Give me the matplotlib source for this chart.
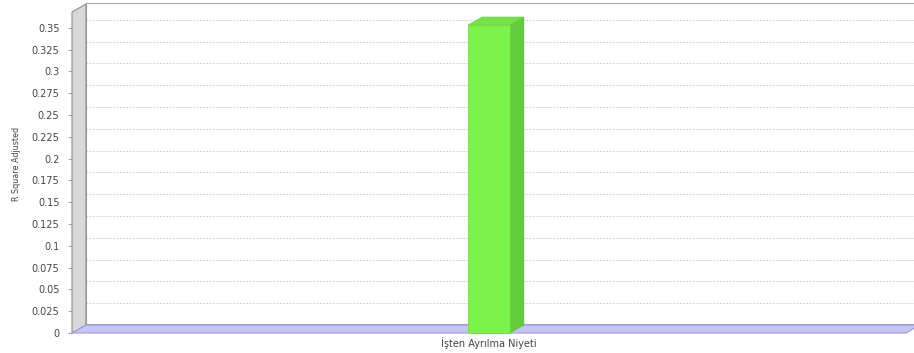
import matplotlib.pyplot as plt
import matplotlib.transforms as mtransforms
from matplotlib.patches import Polygon
import numpy as np

categories = ['İşten Ayrılma Niyeti']
values = [0.353]
yticks = [0, 0.025, 0.05, 0.075, 0.1, 0.125, 0.15, 0.175, 0.2, 0.225, 0.25, 0.275, 0.3, 0.325, 0.35]
ytick_labels = ['0', '0.025', '0.05', '0.075', '0.1', '0.125', '0.15', '0.175', '0.2', '0.225',
                '0.25', '0.275', '0.3', '0.325', '0.35']

W, H = 914, 353
DX, DY = 14, 8  # 3d depth offset in pixels

fig = plt.figure(figsize=(W / 100, H / 100), dpi=100)
ax = fig.add_axes([72 / W, (H - 333) / H, (906 - 72) / W, (333 - 12) / H])
ax.set_xlim(-0.5, len(categories) - 0.5)
ax.set_ylim(0, 0.368)
ax.set_facecolor('none')
for s in ax.spines.values():
    s.set_visible(False)

ident = mtransforms.IdentityTransform()
off = mtransforms.ScaledTranslation(DX / 100, DY / 100, fig.dpi_scale_trans)


def disp(tr, pts):
    return tr.transform(np.array(pts, dtype=float))


def poly(pts, z, **kw):
    p = Polygon(pts, closed=True, transform=ident, clip_on=False, zorder=z, **kw)
    ax.add_patch(p)


# back wall
fl = disp(ax.transAxes, [(0, 0), (1, 0), (1, 1), (0, 1)])
poly(fl + [DX, DY + 1], 0, facecolor='white', edgecolor='#a8a8a8', linewidth=0.8)

# gridlines on the back wall
for v in yticks[1:]:
    ax.plot([0, 1], [v, v], transform=ax.get_yaxis_transform() + off,
            color='#c4c4c4', linestyle=(0, (2, 2)), linewidth=0.6, clip_on=False, zorder=1)

# left wall
lw = disp(ax.transAxes, [(0, 0), (0, 1)])
poly([lw[0], lw[1], lw[1] + [DX, DY], lw[0] + [DX, DY]], 2,
     facecolor='#d8d8d8', edgecolor='#909090', linewidth=0.8)

# floor
fw = disp(ax.transAxes, [(0, 0), (1, 0)])
poly([fw[0], fw[1], fw[1] + [DX, DY], fw[0] + [DX, DY]], 2,
     facecolor='#c6c6f6', edgecolor='#9c9cd8', linewidth=0.8)

# bars
bw = 0.05
for i, v in enumerate(values):
    bl, br, tr_, tl = disp(ax.transData, [(i - bw / 2, 0), (i + bw / 2, 0),
                                          (i + bw / 2, v), (i - bw / 2, v)])
    d = np.array([DX, DY])
    poly([br, br + d, tr_ + d, tr_], 4, facecolor='#62cc3c', edgecolor='#58b836', linewidth=0.5)
    poly([tl, tr_, tr_ + d, tl + d], 4, facecolor='#74e448', edgecolor='#66cc40', linewidth=0.5)
    poly([bl, br, tr_, tl], 5, facecolor='#7cf24c', edgecolor='#6ad840', linewidth=0.5)

ax.set_yticks(yticks)
ax.set_yticklabels(ytick_labels)
ax.set_xticks(range(len(categories)))
ax.set_xticklabels(categories)
ax.tick_params(axis='y', length=3, width=0.6, color='#909090', pad=6,
               labelsize=7, labelcolor='#444444')
ax.tick_params(axis='x', length=0, pad=3, labelsize=7, labelcolor='#444444')

fig.text(17 / W, 1 - 164 / H, 'R Square Adjusted', rotation=90, ha='center', va='center',
         fontsize=5.8, color='#444444')

fig.savefig('out.png', dpi=100)
